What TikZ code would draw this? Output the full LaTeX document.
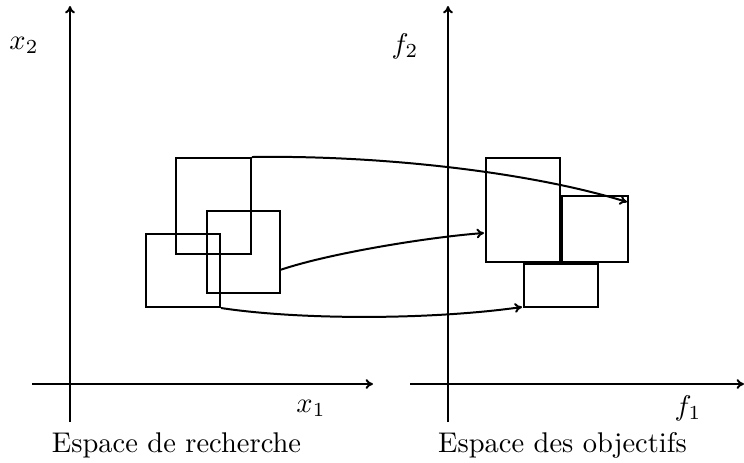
\documentclass[tikz,border=0pt]{standalone}
\usetikzlibrary{arrows.meta}
\begin{document}
\begin{tikzpicture}[x=0.351pt,y=-0.351pt,
  axis/.style={line width=0.7pt,-{To[length=2.6pt,width=3.4pt]}},
  axisline/.style={line width=0.7pt},
  boxsq/.style={draw,line width=0.7pt},
  mapto/.style={line width=0.7pt,-{To[length=2.6pt,width=3.4pt]}},
  lab/.style={inner sep=0pt}]
\useasboundingbox (0,0) rectangle (744,462);
% left axes
\coordinate (lo) at (70,422);
\coordinate (lt) at (70,6);
\coordinate (ll) at (32,384);
\coordinate (lr) at (373,384);
\draw[axisline] (lo) -- (70,384);
\draw[axis] (70,384) -- (lt);
\draw[axis] (ll) -- (lr);
% right axes
\coordinate (ro) at (448,422);
\coordinate (rt) at (448,6);
\coordinate (rl) at (410,384);
\coordinate (rr) at (744,384);
\draw[axisline] (ro) -- (448,384);
\draw[axis] (448,384) -- (rt);
\draw[axis] (rl) -- (rr);
% labels
\node[lab] (x2) at (24,45) {$x_2$};
\node[lab] (f2) at (405,46) {$f_2$};
\node[lab] (x1) at (311,408) {$x_1$};
\node[lab] (f1) at (688,408) {$f_1$};
\node[lab,anchor=base] (ls) at (176.5,452) {Espace de recherche};
\node[lab,anchor=base] (rs) at (562.5,452) {Espace des objectifs};
% search space boxes
\node[boxsq,minimum width=75*0.351pt,minimum height=96*0.351pt,inner sep=0pt] (A) at (213.5,206) {};
\node[boxsq,minimum width=73*0.351pt,minimum height=82*0.351pt,inner sep=0pt] (B) at (243.5,252) {};
\node[boxsq,minimum width=74*0.351pt,minimum height=73*0.351pt,inner sep=0pt] (C) at (183,270.5) {};
% objective space boxes
\node[boxsq,minimum width=74*0.351pt,minimum height=104*0.351pt,inner sep=0pt] (D) at (523,210) {};
\node[boxsq,minimum width=66*0.351pt,minimum height=66*0.351pt,inner sep=0pt] (E) at (595,229) {};
\node[boxsq,minimum width=74*0.351pt,minimum height=43*0.351pt,inner sep=0pt] (F) at (561,285.5) {};
% mappings
\coordinate (Etip) at (627,202);
\coordinate (Dtip) at (484,233);
\coordinate (Ftip) at (522,307);
\coordinate (Bout) at (280,270);
\draw[mapto] (A.north east) .. controls (380,155) and (530,172) .. (Etip);
\draw[mapto] (Bout) .. controls (330,253) and (430,237) .. (Dtip);
\draw[mapto] (C.south east) .. controls (300,320) and (430,320) .. (Ftip);
\end{tikzpicture}
\end{document}
